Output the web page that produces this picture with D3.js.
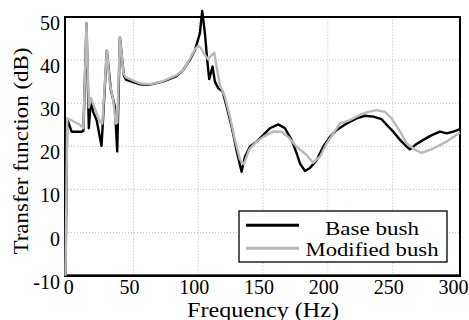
<!DOCTYPE html>
<html><head><meta charset="utf-8">
<script src="https://cdn.jsdelivr.net/npm/d3@7"></script>
</head><body style="margin:0">
<script>
const xTicks=[0,50,100,150,200,250,300];
const yTicks=[-10,0,10,20,30,40,50];
const baseF=[-2.5,-1.2,2.2,9.9,11.3,13.7,15.5,17.1,18.8,21.5,25.3,29.4,32.5,35.6,37.4,39.5,42.5,44.1,54.9,62.6,72.7,83.2,88.3,93.4,97.4,101.2,103.0,105.1,106.9,108.4,111.0,112.8,115.4,118.8,121.9,125.7,130.0,133.4,136.0,139.8,145.0,150.1,155.3,161.7,166.9,172.0,175.9,178.5,182.3,186.2,191.4,196.4,201.6,206.8,214.5,222.2,228.6,235.1,241.5,246.6,250.5,255.7,260.9,263.4,267.3,273.7,280.2,286.6,291.7,296.8,302];
const baseV=[-10,26.3,23.4,23.4,23.6,48.5,24.2,31,28,26.1,20.1,42.2,33.1,29.2,18.8,45.3,36.5,35.5,34.4,34.3,35.0,36.3,37.7,40,42.3,46.2,51.4,46.2,40,35.6,38.5,35,33.5,32.7,29.2,24.6,18.4,14.1,17.6,19.9,21.1,22.6,24.2,25.1,24.2,21.5,18.4,16,14.3,15.0,16.8,19.9,22.2,23.8,25.3,26.5,27.1,26.9,26.3,24.6,23.4,21.5,19.9,19.3,20.3,21.5,22.6,23.4,23.0,23.4,24.0];
const modF=[-2.5,-1.2,2.4,8.6,11.3,13.7,15.5,17.1,24.0,25.9,29.4,31.7,34.3,36.4,37.5,39.5,42.2,44.1,54.9,62.6,72.7,83.2,88.3,93.4,97.4,99.9,102.0,105.1,107.6,109.7,112.3,114.1,116.7,120.5,124.4,128.3,132.1,135.2,138.3,139.8,145.0,150.1,157.8,164.3,169.4,175.9,183.6,188.5,193.9,199.1,204.2,209.3,217.1,224.8,231.2,237.7,244.1,249.3,255.7,260.9,267.3,272.4,281.4,291.7,302];
const modV=[-10,26.5,26,25,24.2,48.5,29,31.2,25.7,25.3,42.2,34.6,30.8,25.3,25.5,45.3,37,36,34.6,34.4,35.1,36.5,37.7,40.2,42.5,43.3,42.8,41.2,40.2,41,41.7,38.5,34.2,31.5,26.9,21.5,17,15.8,18.5,19.5,21.1,22.2,23.4,23.4,22.2,19.9,18.0,16.2,17.6,20.7,23.0,25.3,26.1,27.3,28.0,28.4,28.0,26.5,23.4,20.7,19.2,18.5,19.5,21.1,23.2];
const seriesNames=["Base bush","Modified bush"];
const colors=["#000000","#b9b9b9"];

const svg=d3.select("body").append("svg").attr("width",469).attr("height",320).style("display","block");
const x=d3.scaleLinear().domain([-2.9,302]).range([65,460]);
const y=d3.scaleLinear().domain([-10,50]).range([275.7,17]);

// grid
svg.append("g").selectAll("line").data(xTicks.filter(t=>t>0&&t<300)).join("line")
 .attr("x1",d=>x(d)).attr("x2",d=>x(d)).attr("y1",y(-10)).attr("y2",y(50))
 .attr("stroke","#bdbdbd").attr("stroke-width",1).attr("stroke-dasharray","1,2");
svg.append("g").selectAll("line").data(yTicks.filter(t=>t>-10&&t<50)).join("line")
 .attr("x1",x.range()[0]).attr("x2",x.range()[1]).attr("y1",d=>y(d)).attr("y2",d=>y(d))
 .attr("stroke","#bdbdbd").attr("stroke-width",1).attr("stroke-dasharray","1,2");

// frame
svg.append("rect").attr("x",65).attr("y",17).attr("width",395).attr("height",258.7)
 .attr("fill","none").attr("stroke","#000").attr("stroke-width",2);
svg.append("line").attr("x1",64).attr("x2",461).attr("y1",275.7).attr("y2",275.7).attr("stroke","#000").attr("stroke-width",2.5);

// lines
const line=d3.line().x(d=>x(d[0])).y(d=>y(d[1]));
svg.append("path").datum(d3.zip(baseF,baseV)).attr("d",line).attr("fill","none")
 .attr("stroke",colors[0]).attr("stroke-width",2.4).attr("stroke-linejoin","round");
svg.append("path").datum(d3.zip(modF,modV)).attr("d",line).attr("fill","none")
 .attr("stroke",colors[1]).attr("stroke-width",2.4).attr("stroke-linejoin","round");

// tick labels
svg.append("g").selectAll("text").data(xTicks).join("text")
 .attr("font-family","Liberation Serif").attr("font-size",20)
 .attr("x",d=>x(d)+(d===0?0:-4)).attr("y",293.5).attr("text-anchor","middle").text(d=>d);
svg.append("g").selectAll("text").data(yTicks).join("text")
 .attr("font-family","Liberation Serif").attr("font-size",20)
 .attr("x",60).attr("y",d=>y(d)+13).attr("text-anchor","end").text(d=>d);

// axis labels
svg.append("text").attr("font-family","Liberation Serif").attr("font-size",21)
 .attr("x",263).attr("y",316.5).attr("text-anchor","middle")
 .attr("textLength",152).attr("lengthAdjust","spacingAndGlyphs").text("Frequency (Hz)");
svg.append("text").attr("font-family","Liberation Serif").attr("font-size",21)
 .attr("transform","translate(28,151) rotate(-90)").attr("text-anchor","middle")
 .attr("textLength",207).attr("lengthAdjust","spacingAndGlyphs").text("Transfer function (dB)");

// legend
const lg=svg.append("g");
lg.append("rect").attr("x",239).attr("y",211).attr("width",208).attr("height",51).attr("fill","#fff").attr("stroke","#000").attr("stroke-width",1.3);
const lens=[94,133];
seriesNames.forEach((n,i)=>{
  const yy=[225.3,248.3][i];
  lg.append("line").attr("x1",246).attr("x2",299).attr("y1",yy).attr("y2",yy).attr("stroke",colors[i]).attr("stroke-width",3);
  lg.append("text").attr("font-family","Liberation Serif").attr("font-size",19.5)
   .attr("x",372).attr("y",[234.5,256][i]).attr("text-anchor","middle")
   .attr("textLength",lens[i]).attr("lengthAdjust","spacingAndGlyphs").text(n);
});
</script>
</body></html>
